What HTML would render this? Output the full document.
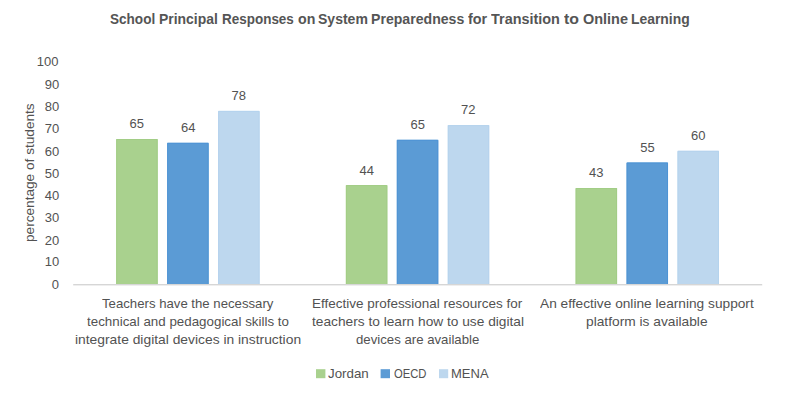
<!DOCTYPE html><html><head><meta charset="utf-8"><style>
html,body{margin:0;padding:0;background:#fff;}
body{width:800px;height:394px;position:relative;overflow:hidden;font-family:"Liberation Sans",sans-serif;}
.t{position:absolute;white-space:nowrap;line-height:1;transform-origin:0 0;}
.b{position:absolute;}
</style></head><body>
<svg width="800" height="394" style="position:absolute;left:0;top:0"><rect x="116.22" y="139.00" width="41.45" height="145.50" fill="#A9D18E"/><path d="M116.72 284.50V139.50H157.17V284.50" fill="none" stroke="#A2CD86" stroke-width="1"/><rect x="167.18" y="142.80" width="41.45" height="141.70" fill="#5B9BD5"/><path d="M167.68 284.50V143.30H208.13V284.50" fill="none" stroke="#4F94D5" stroke-width="1"/><rect x="218.12" y="110.90" width="41.45" height="173.60" fill="#BDD7EE"/><path d="M218.62 284.50V111.40H259.07V284.50" fill="none" stroke="#B5D3ED" stroke-width="1"/><rect x="345.88" y="185.10" width="41.45" height="99.40" fill="#A9D18E"/><path d="M346.38 284.50V185.60H386.83V284.50" fill="none" stroke="#A2CD86" stroke-width="1"/><rect x="396.82" y="139.80" width="41.45" height="144.70" fill="#5B9BD5"/><path d="M397.32 284.50V140.30H437.77V284.50" fill="none" stroke="#4F94D5" stroke-width="1"/><rect x="447.77" y="125.10" width="41.45" height="159.40" fill="#BDD7EE"/><path d="M448.27 284.50V125.60H488.72V284.50" fill="none" stroke="#B5D3ED" stroke-width="1"/><rect x="575.62" y="188.00" width="41.45" height="96.50" fill="#A9D18E"/><path d="M576.12 284.50V188.50H616.57V284.50" fill="none" stroke="#A2CD86" stroke-width="1"/><rect x="626.58" y="162.50" width="41.45" height="122.00" fill="#5B9BD5"/><path d="M627.08 284.50V163.00H667.53V284.50" fill="none" stroke="#4F94D5" stroke-width="1"/><rect x="677.52" y="150.80" width="41.45" height="133.70" fill="#BDD7EE"/><path d="M678.02 284.50V151.30H718.47V284.50" fill="none" stroke="#B5D3ED" stroke-width="1"/><rect x="73.2" y="284.0" width="689" height="1.2" fill="#d6d6d6"/><rect x="73.2" y="285.2" width="689" height="0.8" fill="#ececec"/><rect x="316" y="369.2" width="9.4" height="9" fill="#A9D18E"/><rect x="380.6" y="369.2" width="9.4" height="9" fill="#5B9BD5"/><rect x="439" y="369.2" width="9.2" height="9" fill="#BDD7EE"/></svg>
<div class="t" style="left:110.00px;top:12.00px;font-size:14.6px;font-weight:bold;color:#555555;transform:scaleX(0.9292)">School</div>
<div class="t" style="left:158.74px;top:12.00px;font-size:14.6px;font-weight:bold;color:#555555;transform:scaleX(0.9550)">Principal</div>
<div class="t" style="left:222.28px;top:12.00px;font-size:14.6px;font-weight:bold;color:#555555;transform:scaleX(0.9227)">Responses</div>
<div class="t" style="left:297.60px;top:12.00px;font-size:14.6px;font-weight:bold;color:#555555;transform:scaleX(0.9706)">on</div>
<div class="t" style="left:318.30px;top:12.00px;font-size:14.6px;font-weight:bold;color:#555555;transform:scaleX(0.9608)">System</div>
<div class="t" style="left:371.43px;top:12.00px;font-size:14.6px;font-weight:bold;color:#555555;transform:scaleX(0.9663)">Preparedness</div>
<div class="t" style="left:468.10px;top:12.00px;font-size:14.6px;font-weight:bold;color:#555555;transform:scaleX(0.9850)">for</div>
<div class="t" style="left:491.20px;top:12.00px;font-size:14.6px;font-weight:bold;color:#555555;transform:scaleX(0.9884)">Transition</div>
<div class="t" style="left:564.40px;top:12.00px;font-size:14.6px;font-weight:bold;color:#555555;transform:scaleX(1.0846)">to</div>
<div class="t" style="left:583.00px;top:12.00px;font-size:14.6px;font-weight:bold;color:#555555;transform:scaleX(0.9911)">Online</div>
<div class="t" style="left:631.15px;top:12.00px;font-size:14.6px;font-weight:bold;color:#555555;transform:scaleX(0.9517)">Learning</div>
<div class="t" style="left:102.20px;top:296.80px;font-size:13.5px;font-weight:normal;color:#525252;transform:scaleX(0.9761)">Teachers have the necessary</div>
<div class="t" style="left:87.00px;top:314.60px;font-size:13.5px;font-weight:normal;color:#525252;transform:scaleX(0.9892)">technical and pedagogical skills to</div>
<div class="t" style="left:74.58px;top:332.80px;font-size:13.5px;font-weight:normal;color:#525252;transform:scaleX(1.0247)">integrate digital devices in instruction</div>
<div class="t" style="left:311.90px;top:296.80px;font-size:13.5px;font-weight:normal;color:#525252;transform:scaleX(0.9981)">Effective professional resources for</div>
<div class="t" style="left:312.20px;top:314.60px;font-size:13.5px;font-weight:normal;color:#525252;transform:scaleX(1.0163)">teachers to learn how to use digital</div>
<div class="t" style="left:356.20px;top:332.80px;font-size:13.5px;font-weight:normal;color:#525252;transform:scaleX(0.9778)">devices are available</div>
<div class="t" style="left:539.90px;top:296.80px;font-size:13.5px;font-weight:normal;color:#525252;transform:scaleX(1.0147)">An effective online learning support</div>
<div class="t" style="left:586.08px;top:314.60px;font-size:13.5px;font-weight:normal;color:#525252;transform:scaleX(1.0186)">platform is available</div>
<div class="t" style="left:36.80px;top:55.10px;font-size:13px;font-weight:normal;color:#525252;transform:none">100</div>
<div class="t" style="left:44.80px;top:77.90px;font-size:13px;font-weight:normal;color:#525252;transform:none">90</div>
<div class="t" style="left:44.80px;top:100.10px;font-size:13px;font-weight:normal;color:#525252;transform:none">80</div>
<div class="t" style="left:44.80px;top:122.30px;font-size:13px;font-weight:normal;color:#525252;transform:none">70</div>
<div class="t" style="left:44.80px;top:144.90px;font-size:13px;font-weight:normal;color:#525252;transform:none">60</div>
<div class="t" style="left:44.80px;top:167.00px;font-size:13px;font-weight:normal;color:#525252;transform:none">50</div>
<div class="t" style="left:44.80px;top:189.20px;font-size:13px;font-weight:normal;color:#525252;transform:none">40</div>
<div class="t" style="left:44.80px;top:211.40px;font-size:13px;font-weight:normal;color:#525252;transform:none">30</div>
<div class="t" style="left:44.80px;top:233.60px;font-size:13px;font-weight:normal;color:#525252;transform:none">20</div>
<div class="t" style="left:44.80px;top:255.30px;font-size:13px;font-weight:normal;color:#525252;transform:none">10</div>
<div class="t" style="left:51.80px;top:278.10px;font-size:13px;font-weight:normal;color:#525252;transform:none">0</div>
<div class="t" style="left:129.43px;top:117.00px;font-size:13px;font-weight:normal;color:#525252;transform:none">65</div>
<div class="t" style="left:180.95px;top:120.75px;font-size:13px;font-weight:normal;color:#525252;transform:none">64</div>
<div class="t" style="left:231.50px;top:89.20px;font-size:13px;font-weight:normal;color:#525252;transform:none">78</div>
<div class="t" style="left:359.55px;top:164.00px;font-size:13px;font-weight:normal;color:#525252;transform:none">44</div>
<div class="t" style="left:410.50px;top:118.30px;font-size:13px;font-weight:normal;color:#525252;transform:none">65</div>
<div class="t" style="left:461.10px;top:102.90px;font-size:13px;font-weight:normal;color:#525252;transform:none">72</div>
<div class="t" style="left:589.10px;top:166.00px;font-size:13px;font-weight:normal;color:#525252;transform:none">43</div>
<div class="t" style="left:640.35px;top:140.80px;font-size:13px;font-weight:normal;color:#525252;transform:none">55</div>
<div class="t" style="left:691.10px;top:128.80px;font-size:13px;font-weight:normal;color:#525252;transform:none">60</div>
<div class="t" style="left:327.80px;top:366.80px;font-size:13px;font-weight:normal;color:#525252;transform:scaleX(1.0256)">Jordan</div>
<div class="t" style="left:393.50px;top:366.80px;font-size:13px;font-weight:normal;color:#525252;transform:scaleX(0.8649)">OECD</div>
<div class="t" style="left:451.00px;top:366.80px;font-size:13px;font-weight:normal;color:#525252;transform:none">MENA</div>
<div class="t" style="left:23.20px;top:241.91px;font-size:13.5px;font-weight:normal;color:#525252;transform:rotate(-90deg) scaleX(1.0096)">percentage of students</div>
</body></html>
